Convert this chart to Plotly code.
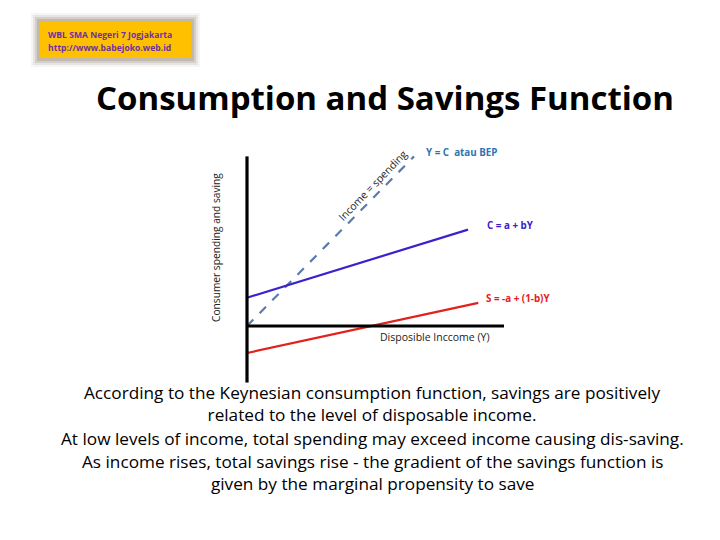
import plotly.graph_objects as go

# ---- data (units: income on x, spending/saving on y) ----
income_axis_x = [0, 100]
income_axis_y = [0, 0]
vert_axis_x = [0, 0]
vert_axis_y = [-22, 66]

bep_x = [0, 65]
bep_y = [0, 66]

cons_x = [0, 86]
cons_y = [11, 37.5]

sav_x = [0, 90]
sav_y = [-10.5, 9]

labels = {
    "bep": "Y = C  atau BEP",
    "cons": "C = a + bY",
    "sav": "S = -a + (1-b)Y",
}
body_paragraphs = [
    ["According to the Keynesian consumption function, savings are positively",
     "related to the level of disposable income."],
    ["At low levels of income, total spending may exceed income causing dis-saving."],
    ["As income rises, total savings rise - the gradient of the savings function is",
     "given by the marginal propensity to save"],
]
body_y = [403.6, 438, 472.4]

OFF = 8  # page body margin
W, H = 720 - OFF, 540 - OFF
px = 2.57  # pixels per data unit
ox, oy = 247 - OFF, 326 - OFF  # figure-pixel position of origin
xr = [-ox / px, (W - ox) / px]
yr = [-(H - oy) / px, oy / px]

fig = go.Figure()
fig.add_trace(go.Scatter(x=bep_x, y=bep_y, mode="lines",
                         line=dict(color="#5B7BAE", width=2.2, dash="dash"), hoverinfo="skip"))
fig.add_trace(go.Scatter(x=cons_x, y=cons_y, mode="lines",
                         line=dict(color="#3A22CC", width=2.2), hoverinfo="skip"))
fig.add_trace(go.Scatter(x=sav_x, y=sav_y, mode="lines",
                         line=dict(color="#E3201C", width=2.2), hoverinfo="skip"))
fig.add_trace(go.Scatter(x=income_axis_x, y=income_axis_y, mode="lines",
                         line=dict(color="black", width=3.2), hoverinfo="skip"))
fig.add_trace(go.Scatter(x=vert_axis_x, y=vert_axis_y, mode="lines",
                         line=dict(color="black", width=3.2), hoverinfo="skip"))

def pxx(p):
    return (p - OFF) / W

def pxy(p):
    return 1 - (p - OFF) / H

ann = []
font = "Open Sans, Liberation Sans, sans-serif"
# header box text
ann.append(dict(x=pxx(46), y=pxy(35), text="<b>WBL SMA Negeri 7 Jogjakarta</b>", xanchor="left", yanchor="middle",
                font=dict(family=font, size=8.6, color="#7030A0")))
ann.append(dict(x=pxx(46), y=pxy(47.5), text="<b>http://www.babejoko.web.id</b>", xanchor="left", yanchor="middle",
                font=dict(family=font, size=8.6, color="#7030A0")))
# title
ann.append(dict(x=pxx(385), y=pxy(97), text="<b>Consumption and Savings Function</b>", xanchor="center", yanchor="middle",
                font=dict(family=font, size=33, color="black")))
# chart labels
ann.append(dict(x=pxx(216), y=pxy(248), text="Consumer spending and saving", textangle=-90, xanchor="center", yanchor="middle",
                font=dict(family=font, size=10.2, color="#222")))
ann.append(dict(x=pxx(373), y=pxy(185), text="Income = spending", textangle=-46, xanchor="center", yanchor="middle",
                font=dict(family=font, size=10.5, color="#222")))
ann.append(dict(x=pxx(424), y=pxy(152), text="<b>" + labels["bep"] + "</b>", xanchor="left", yanchor="middle",
                font=dict(family=font, size=9.8, color="#2E75B6")))
ann.append(dict(x=pxx(485), y=pxy(225), text="<b>" + labels["cons"] + "</b>", xanchor="left", yanchor="middle",
                font=dict(family=font, size=9.8, color="#3A22CC")))
ann.append(dict(x=pxx(484), y=pxy(298), text="<b>" + labels["sav"] + "</b>", xanchor="left", yanchor="middle",
                font=dict(family=font, size=9.8, color="#E3201C")))
ann.append(dict(x=pxx(435), y=pxy(337), text="Disposible Inccome (Y)", xanchor="center", yanchor="middle",
                font=dict(family=font, size=10.5, color="#222")))
for lines, yy in zip(body_paragraphs, body_y):
    ann.append(dict(x=pxx(372), y=pxy(yy), text="<br>".join(lines), xanchor="center", yanchor="middle",
                    align="center", borderpad=0,
                    font=dict(family=font, size=17.2, color="black")))
for a in ann:
    a.update(xref="paper", yref="paper", showarrow=False)

shapes = []
# soft shadow around header box (layered to mimic blur)
for pad, op in [(9, 0.1), (7, 0.18), (5, 0.28), (3, 0.42)]:
    shapes.append(dict(type="rect", xref="paper", yref="paper",
                       x0=pxx(40 - pad), x1=pxx(191 + pad), y0=pxy(58 + pad), y1=pxy(22 - pad),
                       fillcolor="#A89A8E", opacity=op, line=dict(width=0), layer="below"))
shapes.append(dict(type="rect", xref="paper", yref="paper", x0=pxx(40), x1=pxx(191), y0=pxy(58), y1=pxy(22),
                   fillcolor="#FFC000", line=dict(width=0), layer="below"))

fig.update_layout(
    width=W, height=H, margin=dict(l=0, r=0, t=0, b=0),
    paper_bgcolor="white", plot_bgcolor="white", showlegend=False,
    xaxis=dict(range=xr, visible=False, fixedrange=True),
    yaxis=dict(range=yr, visible=False, fixedrange=True),
    annotations=ann, shapes=shapes,
)
fig.write_html("out.html")
